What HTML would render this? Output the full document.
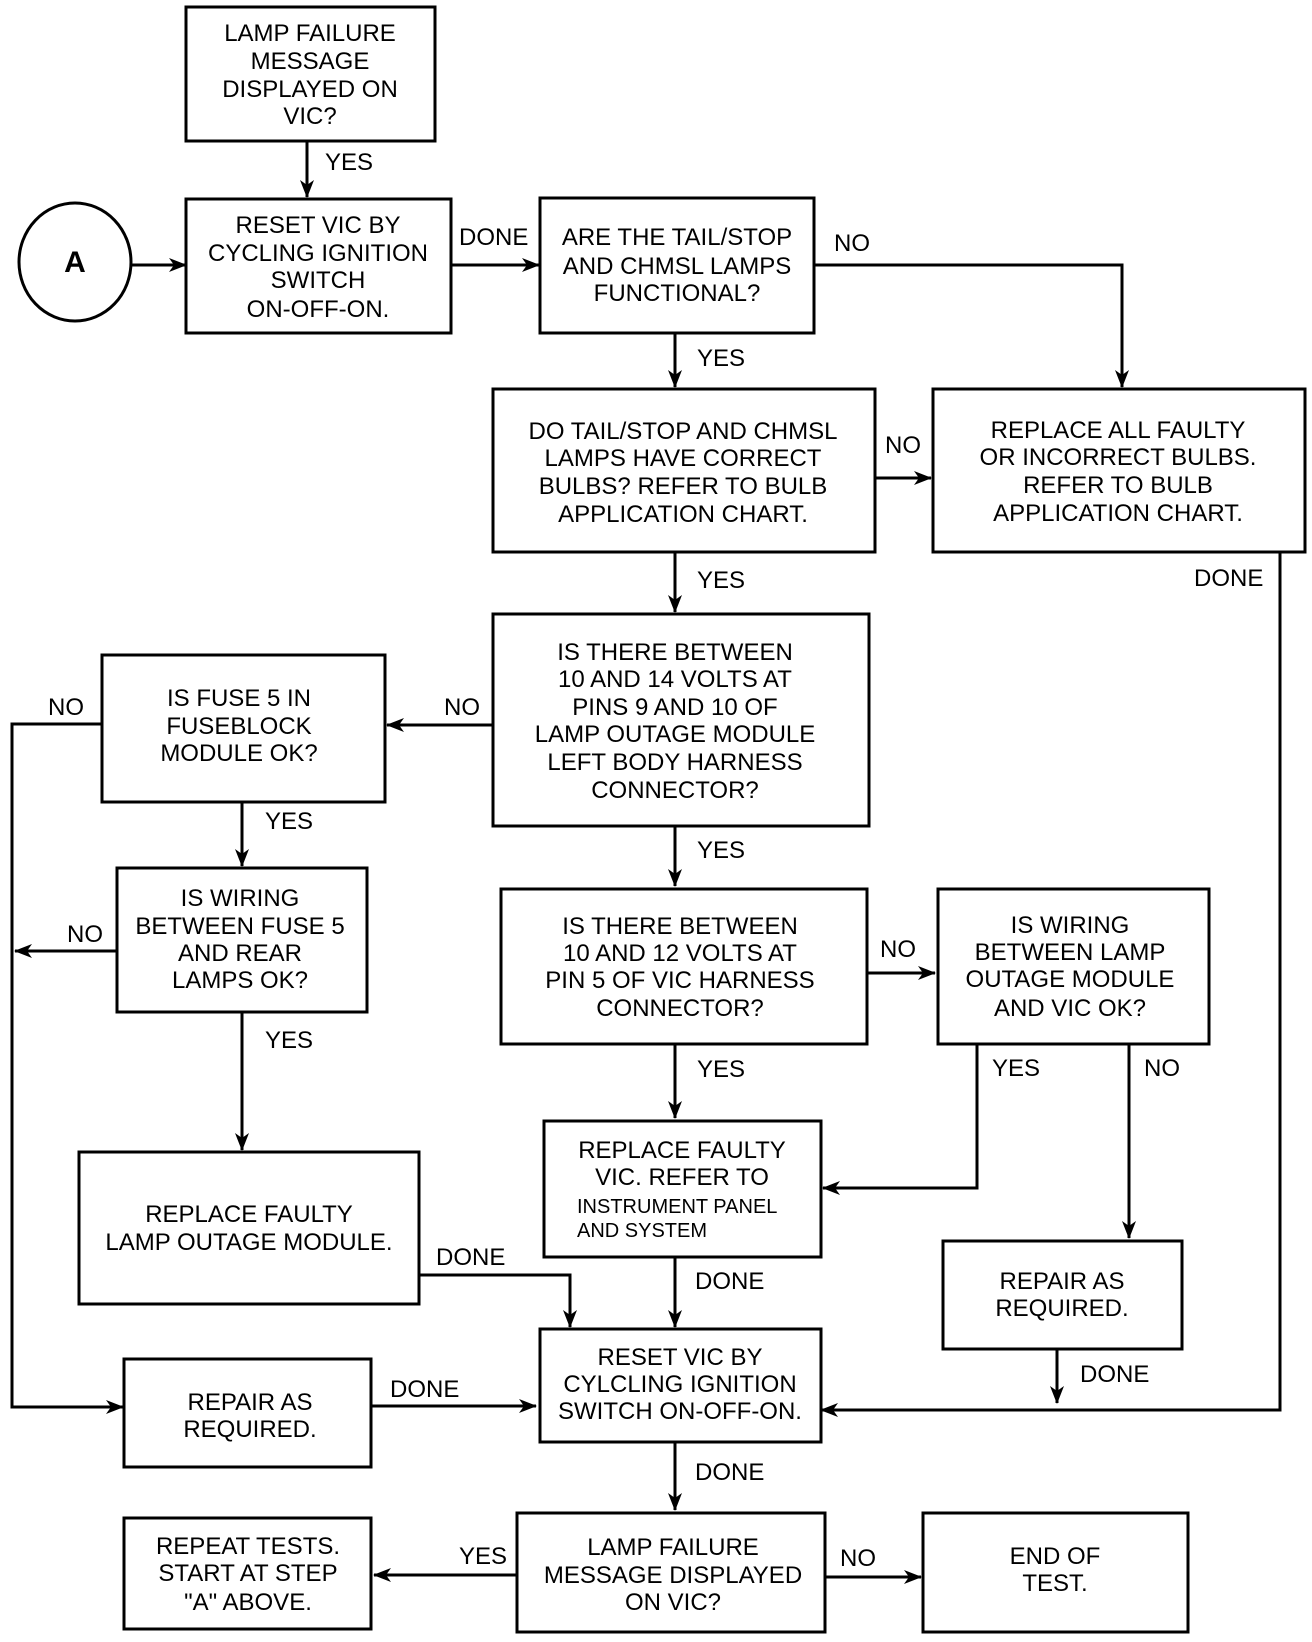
<!DOCTYPE html>
<html><head><meta charset="utf-8"><style>
html,body{margin:0;padding:0;background:#fff}
svg{display:block}
text{font-family:"Liberation Sans",Arial,sans-serif;font-size:24px;fill:#000}
.c{text-anchor:middle}
</style></head><body>
<svg width="1312" height="1642" viewBox="0 0 1312 1642" xmlns="http://www.w3.org/2000/svg">
<defs>
<marker id="a" markerUnits="userSpaceOnUse" markerWidth="18" markerHeight="14" refX="17" refY="7" orient="auto">
<path d="M0,0 L18,7 L0,14 L5,7 Z" fill="#000"/>
</marker>
</defs>
<g fill="none" stroke="#000" stroke-width="3">
<rect x="186" y="7" width="249" height="134"/>
<ellipse cx="75" cy="262" rx="56" ry="59"/>
<rect x="186" y="199" width="265" height="134"/>
<rect x="540" y="198" width="274" height="135"/>
<rect x="493" y="389" width="382" height="163"/>
<rect x="933" y="389" width="372" height="163"/>
<rect x="493" y="614" width="376" height="212"/>
<rect x="102" y="655" width="283" height="147"/>
<rect x="117" y="868" width="250" height="144"/>
<rect x="79" y="1152" width="340" height="152"/>
<rect x="501" y="889" width="366" height="155"/>
<rect x="938" y="889" width="271" height="155"/>
<rect x="544" y="1121" width="277" height="136"/>
<rect x="943" y="1241" width="239" height="108"/>
<rect x="540" y="1329" width="281" height="113"/>
<rect x="124" y="1359" width="247" height="108"/>
<rect x="517" y="1513" width="308" height="119"/>
<rect x="124" y="1518" width="247" height="111"/>
<rect x="923" y="1513" width="265" height="119"/>
</g>
<g fill="none" stroke="#000" stroke-width="3" marker-end="url(#a)">
<path d="M307,141 V197"/>
<path d="M131,265 H186"/>
<path d="M451,265 H539"/>
<path d="M814,265 H1122 V387"/>
<path d="M675,333 V387"/>
<path d="M875,478 H931"/>
<path d="M1280,552 V1410 H821"/>
<path d="M675,552 V612"/>
<path d="M493,725 H387"/>
<path d="M102,724 H12 V1407 H123"/>
<path d="M242,802 V866"/>
<path d="M117,951 H15"/>
<path d="M242,1012 V1150"/>
<path d="M419,1275 H570 V1327"/>
<path d="M675,826 V886"/>
<path d="M867,973 H935"/>
<path d="M977,1044 V1188 H823"/>
<path d="M1129,1044 V1238"/>
<path d="M675,1044 V1118"/>
<path d="M675,1257 V1327"/>
<path d="M1057,1349 V1403"/>
<path d="M371,1406 H536"/>
<path d="M675,1442 V1510"/>
<path d="M517,1575 H374"/>
<path d="M825,1577 H921"/>
</g>
<text x="75" y="272" class="c" style="font-weight:bold;font-size:30px">A</text>
<g class="c">
<text x="310" y="41" class="c">LAMP FAILURE</text><text x="310" y="69" class="c">MESSAGE</text><text x="310" y="97" class="c">DISPLAYED ON</text><text x="310" y="124" class="c">VIC?</text>
<text x="318" y="233" class="c">RESET VIC BY</text><text x="318" y="261" class="c">CYCLING IGNITION</text><text x="318" y="288" class="c">SWITCH</text><text x="318" y="317" class="c">ON-OFF-ON.</text>
<text x="677" y="245" class="c">ARE THE TAIL/STOP</text><text x="677" y="274" class="c">AND CHMSL LAMPS</text><text x="677" y="301" class="c">FUNCTIONAL?</text>
<text x="683" y="439" class="c">DO TAIL/STOP AND CHMSL</text><text x="683" y="466" class="c">LAMPS HAVE CORRECT</text><text x="683" y="494" class="c">BULBS?  REFER TO BULB</text><text x="683" y="522" class="c">APPLICATION CHART.</text>
<text x="1118" y="438" class="c">REPLACE ALL FAULTY</text><text x="1118" y="465" class="c">OR INCORRECT BULBS.</text><text x="1118" y="493" class="c">REFER TO BULB</text><text x="1118" y="521" class="c">APPLICATION CHART.</text>
<text x="675" y="660" class="c">IS THERE BETWEEN</text><text x="675" y="687" class="c">10 AND 14 VOLTS AT</text><text x="675" y="715" class="c">PINS 9 AND 10 OF</text><text x="675" y="742" class="c">LAMP OUTAGE MODULE</text><text x="675" y="770" class="c">LEFT BODY HARNESS</text><text x="675" y="798" class="c">CONNECTOR?</text>
<text x="239" y="706" class="c">IS FUSE 5 IN</text><text x="239" y="734" class="c">FUSEBLOCK</text><text x="239" y="761" class="c">MODULE OK?</text>
<text x="240" y="906" class="c">IS WIRING</text><text x="240" y="934" class="c">BETWEEN FUSE 5</text><text x="240" y="961" class="c">AND REAR</text><text x="240" y="988" class="c">LAMPS OK?</text>
<text x="249" y="1222" class="c">REPLACE FAULTY</text><text x="249" y="1250" class="c">LAMP OUTAGE MODULE.</text>
<text x="680" y="934" class="c">IS THERE BETWEEN</text><text x="680" y="961" class="c">10 AND 12 VOLTS AT</text><text x="680" y="988" class="c">PIN 5 OF VIC HARNESS</text><text x="680" y="1016" class="c">CONNECTOR?</text>
<text x="1070" y="933" class="c">IS WIRING</text><text x="1070" y="960" class="c">BETWEEN LAMP</text><text x="1070" y="987" class="c">OUTAGE MODULE</text><text x="1070" y="1016" class="c">AND VIC OK?</text>
<text x="682" y="1158" class="c">REPLACE FAULTY</text><text x="682" y="1185" class="c">VIC.  REFER TO</text>
<text x="1062" y="1289" class="c">REPAIR AS</text><text x="1062" y="1316" class="c">REQUIRED.</text>
<text x="680" y="1365" class="c">RESET VIC BY</text><text x="680" y="1392" class="c">CYLCLING IGNITION</text><text x="680" y="1419" class="c">SWITCH ON-OFF-ON.</text>
<text x="250" y="1410" class="c">REPAIR AS</text><text x="250" y="1437" class="c">REQUIRED.</text>
<text x="673" y="1555" class="c">LAMP FAILURE</text><text x="673" y="1583" class="c">MESSAGE DISPLAYED</text><text x="673" y="1610" class="c">ON VIC?</text>
<text x="248" y="1554" class="c">REPEAT TESTS.</text><text x="248" y="1581" class="c">START AT STEP</text><text x="248" y="1610" class="c">"A" ABOVE.</text>
<text x="1055" y="1564" class="c">END OF</text><text x="1055" y="1591" class="c">TEST.</text>
</g>
<text x="577" y="1213" style="font-size:20px">INSTRUMENT PANEL</text>
<text x="577" y="1237" style="font-size:20px">AND SYSTEM</text>
<text x="325" y="170">YES</text>
<text x="459" y="245">DONE</text>
<text x="834" y="251">NO</text>
<text x="697" y="366">YES</text>
<text x="885" y="453">NO</text>
<text x="1194" y="586">DONE</text>
<text x="697" y="588">YES</text>
<text x="444" y="715">NO</text>
<text x="48" y="715">NO</text>
<text x="265" y="829">YES</text>
<text x="67" y="942">NO</text>
<text x="265" y="1048">YES</text>
<text x="436" y="1265">DONE</text>
<text x="697" y="858">YES</text>
<text x="880" y="957">NO</text>
<text x="992" y="1076">YES</text>
<text x="1144" y="1076">NO</text>
<text x="697" y="1077">YES</text>
<text x="695" y="1289">DONE</text>
<text x="1080" y="1382">DONE</text>
<text x="390" y="1397">DONE</text>
<text x="695" y="1480">DONE</text>
<text x="459" y="1564">YES</text>
<text x="840" y="1566">NO</text>
</svg>
</body></html>
